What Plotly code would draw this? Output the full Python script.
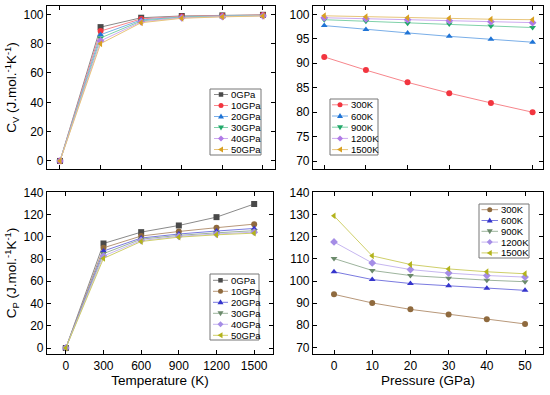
import plotly.graph_objects as go

# ---------------- data ----------------
temperature = [0, 300, 600, 900, 1200, 1500]
pressure = [0, 10, 20, 30, 40, 50]
pressure_labels = ["0GPa", "10GPa", "20GPa", "30GPa", "40GPa", "50GPa"]
temp_labels = ["300K", "600K", "900K", "1200K", "1500K"]

# Cv (J/mol/K) vs pressure at each temperature
cv_300K = [91.3, 88.6, 86.1, 83.9, 81.9, 80.0]
cv_600K = [97.7, 96.9, 96.2, 95.5, 94.9, 94.3]
cv_900K = [98.9, 98.6, 98.2, 98.0, 97.6, 97.3]
cv_1200K = [99.3, 99.1, 98.9, 98.7, 98.5, 98.3]
cv_1500K = [99.7, 99.5, 99.3, 99.2, 99.0, 98.9]
cv_0K = [0, 0, 0, 0, 0, 0]

# Cp (J/mol/K) vs pressure at each temperature
cp_300K = [94.0, 90.1, 87.2, 84.9, 82.7, 80.6]
cp_600K = [104.2, 100.7, 98.9, 97.9, 96.7, 95.8]
cp_900K = [110.2, 104.8, 102.5, 101.3, 100.4, 99.7]
cp_1200K = [117.7, 108.2, 105.2, 103.6, 102.5, 101.8]
cp_1500K = [129.5, 111.4, 107.5, 105.5, 104.2, 103.3]
cp_0K = [0, 0, 0, 0, 0, 0]

cv_by_T = [cv_0K, cv_300K, cv_600K, cv_900K, cv_1200K, cv_1500K]
cp_by_T = [cp_0K, cp_300K, cp_600K, cp_900K, cp_1200K, cp_1500K]

# ---------------- styles ----------------
W, H = 550, 395
FONT = "Liberation Sans, Arial, sans-serif"
symbols_p = ["square", "circle", "triangle-up", "triangle-down", "diamond", "triangle-left"]
symbols_t = ["circle", "triangle-up", "triangle-down", "diamond", "triangle-left"]

top_p_colors = ["#4a4a4a", "#f2353f", "#1f74d6", "#22a86a", "#b07ae6", "#d9a021"]
top_p_lines = ["#8a8a8a", "#f7868c", "#79aee8", "#7fd1a9", "#cdaaf0", "#e8c57a"]
top_t_colors = ["#f2353f", "#1f74d6", "#22a86a", "#b07ae6", "#d9a021"]
top_t_lines = ["#f7868c", "#79aee8", "#7fd1a9", "#cdaaf0", "#e8c57a"]

bot_p_colors = ["#4a4a4a", "#8f6a3e", "#3535cc", "#6b8a6b", "#a58de6", "#b3b31c"]
bot_p_lines = ["#8a8a8a", "#b8987a", "#7a7ae0", "#9db49d", "#c6b6f0", "#cfcf6a"]
bot_t_colors = ["#8f6a3e", "#3535cc", "#6b8a6b", "#a58de6", "#b3b31c"]
bot_t_lines = ["#b8987a", "#7a7ae0", "#9db49d", "#c6b6f0", "#cfcf6a"]

fig = go.Figure()

# top-left: Cv vs T for each pressure
for i, lab in enumerate(pressure_labels):
    fig.add_trace(go.Scatter(
        x=temperature, y=[cv_by_T[k][i] for k in range(len(temperature))],
        mode="lines+markers", name=lab, xaxis="x", yaxis="y",
        line=dict(color=top_p_lines[i], width=1),
        marker=dict(symbol=symbols_p[i], size=6, color=top_p_colors[i]),
        showlegend=False))

# top-right: Cv vs P for each temperature
for j, lab in enumerate(temp_labels):
    fig.add_trace(go.Scatter(
        x=pressure, y=cv_by_T[j + 1],
        mode="lines+markers", name=lab, xaxis="x2", yaxis="y2",
        line=dict(color=top_t_lines[j], width=1),
        marker=dict(symbol=symbols_t[j], size=6, color=top_t_colors[j]),
        showlegend=False))

# bottom-left: Cp vs T
for i, lab in enumerate(pressure_labels):
    fig.add_trace(go.Scatter(
        x=temperature, y=[cp_by_T[k][i] for k in range(len(temperature))],
        mode="lines+markers", name=lab, xaxis="x3", yaxis="y3",
        line=dict(color=bot_p_lines[i], width=1),
        marker=dict(symbol=symbols_p[i], size=6, color=bot_p_colors[i]),
        showlegend=False))

# bottom-right: Cp vs P
for j, lab in enumerate(temp_labels):
    fig.add_trace(go.Scatter(
        x=pressure, y=cp_by_T[j + 1],
        mode="lines+markers", name=lab, xaxis="x4", yaxis="y4",
        line=dict(color=bot_t_lines[j], width=1),
        marker=dict(symbol=symbols_t[j], size=6, color=bot_t_colors[j]),
        showlegend=False))


def dom_x(a, b):
    return [a / W, b / W]


def dom_y(top, bottom):
    return [1 - bottom / H, 1 - top / H]


axis_common = dict(showline=True, linecolor="black", linewidth=1.2, mirror="ticks",
                   ticks="inside", ticklen=4, tickwidth=1.2, tickcolor="black",
                   showgrid=False, zeroline=False, automargin=False,
                   tickfont=dict(family=FONT, size=12, color="black"))

title_font = dict(family=FONT, size=13.5, color="black")

fig.update_layout(
    width=W, height=H, margin=dict(l=0, r=0, t=0, b=0),
    plot_bgcolor="white", paper_bgcolor="white",
    font=dict(family=FONT, color="black"),
    xaxis=dict(domain=dom_x(47, 275), anchor="y", range=[-96, 1589],
               tickvals=temperature, showticklabels=False, **axis_common),
    yaxis=dict(domain=dom_y(6, 169), anchor="x", range=[-5.5, 105.7],
               tickvals=[0, 20, 40, 60, 80, 100],
               title=dict(text="C<sub>V</sub> (J.mol.<sup>-1</sup>K<sup>-1</sup>)",
                          font=title_font, standoff=3), **axis_common),
    xaxis2=dict(domain=dom_x(313, 543), anchor="y2", range=[-2.7, 52.5],
                tickvals=pressure, showticklabels=False, **axis_common),
    yaxis2=dict(domain=dom_y(6, 169), anchor="x2", range=[68.4, 101.7],
                tickvals=[70, 75, 80, 85, 90, 95, 100], **axis_common),
    xaxis3=dict(domain=dom_x(47, 273), anchor="y3", range=[-150, 1650],
                tickvals=temperature,
                title=dict(text="Temperature (K)", font=title_font, standoff=4),
                **axis_common),
    yaxis3=dict(domain=dom_y(192, 354), anchor="x3", range=[-5.4, 140.3],
                tickvals=[0, 20, 40, 60, 80, 100, 120, 140],
                title=dict(text="C<sub>P</sub> (J.mol.<sup>-1</sup>K<sup>-1</sup>)",
                           font=title_font, standoff=3), **axis_common),
    xaxis4=dict(domain=dom_x(313, 543), anchor="y4", range=[-5.5, 54.7],
                tickvals=pressure,
                title=dict(text="Pressure (GPa)", font=title_font, standoff=4),
                **axis_common),
    yaxis4=dict(domain=dom_y(192, 354), anchor="x4", range=[67, 140.3],
                tickvals=[70, 80, 90, 100, 110, 120, 130, 140], **axis_common),
)

# ---------------- hand-drawn legends (layout decorations) ----------------
shapes = []
annotations = []


def P(x, y):
    return x / W, 1 - y / H


def marker_shape(sym, cx, cy, r, color):
    if sym == "circle":
        x0, y0 = P(cx - r, cy - r)
        x1, y1 = P(cx + r, cy + r)
        return dict(type="circle", xref="paper", yref="paper", x0=x0, y0=y0, x1=x1, y1=y1,
                    fillcolor=color, line=dict(width=0))
    if sym == "square":
        rr = r * 0.9
        pts = [(cx - rr, cy - rr), (cx + rr, cy - rr), (cx + rr, cy + rr), (cx - rr, cy + rr)]
    elif sym == "triangle-up":
        pts = [(cx, cy - r * 1.2), (cx + r * 1.2, cy + r * 0.8), (cx - r * 1.2, cy + r * 0.8)]
    elif sym == "triangle-down":
        pts = [(cx, cy + r * 1.2), (cx + r * 1.2, cy - r * 0.8), (cx - r * 1.2, cy - r * 0.8)]
    elif sym == "triangle-left":
        pts = [(cx - r * 1.2, cy), (cx + r * 0.8, cy - r * 1.2), (cx + r * 0.8, cy + r * 1.2)]
    else:  # diamond
        pts = [(cx, cy - r * 1.2), (cx + r * 1.2, cy), (cx, cy + r * 1.2), (cx - r * 1.2, cy)]
    path = "M " + " L ".join("%.5f,%.5f" % P(px, py) for px, py in pts) + " Z"
    return dict(type="path", xref="paper", yref="paper", path=path,
                fillcolor=color, line=dict(width=0))


def add_legend(box, rows, line_x, text_x, labels, syms, colors, lcolors):
    x0, y0 = P(box[0], box[1])
    x1, y1 = P(box[2], box[3])
    shapes.append(dict(type="rect", xref="paper", yref="paper", x0=x0, y0=y1, x1=x1, y1=y0,
                       line=dict(color="#777777", width=1), fillcolor="rgba(0,0,0,0)"))
    for k, lab in enumerate(labels):
        cy = rows[0] + k * rows[1]
        a, b = P(line_x[0], cy)
        c, _ = P(line_x[1], cy)
        shapes.append(dict(type="line", xref="paper", yref="paper", x0=a, y0=b, x1=c, y1=b,
                           line=dict(color=lcolors[k], width=1)))
        shapes.append(marker_shape(syms[k], (line_x[0] + line_x[1]) / 2, cy, 2.5, colors[k]))
        tx, ty = P(text_x, cy)
        annotations.append(dict(x=tx, y=ty, xref="paper", yref="paper", text=lab,
                                showarrow=False, xanchor="left", yanchor="middle",
                                font=dict(family=FONT, size=9.5, color="black")))


add_legend((210, 89, 261, 155), (94.5, 11.0), (214, 228), 229,
           pressure_labels, symbols_p, top_p_colors, top_p_lines)
add_legend((330, 99, 378, 155), (104.8, 11.2), (332, 348), 348.5,
           temp_labels, symbols_t, top_t_colors, top_t_lines)
add_legend((210, 274, 259, 340), (280.3, 11.0), (213, 228), 228.5,
           pressure_labels, symbols_p, bot_p_colors, bot_p_lines)
add_legend((479, 204, 529, 258), (209.7, 10.8), (481.5, 498), 498.5,
           temp_labels, symbols_t, bot_t_colors, bot_t_lines)

fig.update_layout(shapes=shapes, annotations=annotations)

fig.write_html("out.html",
               config={"displayModeBar": False},
               post_script="document.body.style.margin='0px';document.body.style.overflow='hidden';")
